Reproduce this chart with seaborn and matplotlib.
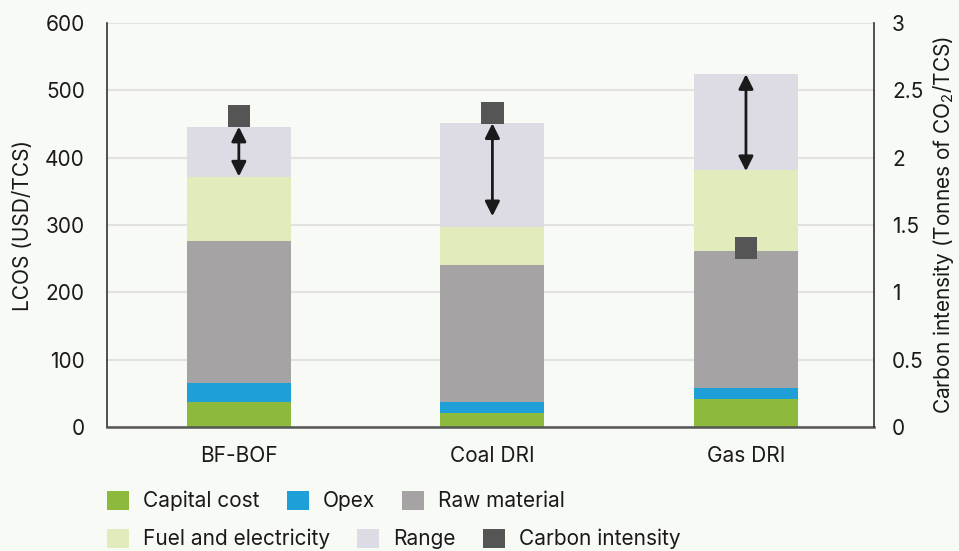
import numpy as np
import pandas as pd
import matplotlib
matplotlib.use("Agg")
import matplotlib.pyplot as plt
from matplotlib.patches import Patch
import seaborn as sns

# ---- data -------------------------------------------------------------
routes = ["BF-BOF", "Coal DRI", "Gas DRI"]
capital_cost = [37, 21, 41]
opex = [29, 16, 17]
raw_material = [210, 204, 203]
fuel_electricity = [96, 56, 120]
range_top = [446, 451, 524]          # upper end of the LCOS range
arrow_low = [372, 313, 380]          # lower end of the range arrow
carbon_intensity = [2.31, 2.33, 1.33]  # t CO2 / t crude steel

components = ["Capital cost", "Opex", "Raw material", "Fuel and electricity"]
colors = {
    "Capital cost": "#8dba3c",
    "Opex": "#1e9fd8",
    "Raw material": "#a5a3a4",
    "Fuel and electricity": "#e2ebbb",
    "Range": "#dddce4",
    "Carbon intensity": "#555555",
}
bg = "#f8faf5"

sns.set_theme(style="white")
plt.rcParams["font.family"] = ["Inter", "DejaVu Sans"]
plt.rcParams["mathtext.default"] = "regular"
FS = 15

fig = plt.figure(figsize=(9.59, 5.51), dpi=100, facecolor=bg)
ax = fig.add_axes([107 / 959, 1 - 427 / 551, (874 - 107) / 959, (427 - 23) / 551])
ax.set_facecolor(bg)

df = pd.DataFrame({
    "route": routes,
    "Capital cost": capital_cost,
    "Opex": opex,
    "Raw material": raw_material,
    "Fuel and electricity": fuel_electricity,
})
df["stack_top"] = df[components].sum(axis=1)
df["Range"] = np.array(range_top) - df["stack_top"]

bottom = np.zeros(len(routes))
for comp in components + ["Range"]:
    sns.barplot(data=df, x="route", y=comp, color=colors[comp], width=0.41,
                bottom=bottom, ax=ax, saturation=1, linewidth=0, zorder=2)
    bottom = bottom + df[comp].to_numpy()

# double-headed range arrows
pos = np.arange(len(routes))
for xi, hi, lo in zip(pos, range_top, arrow_low):
    ax.annotate("", xy=(xi, lo), xytext=(xi, hi),
                arrowprops=dict(arrowstyle="<|-|>", color="#1a1a1a", lw=2,
                                mutation_scale=22, shrinkA=0, shrinkB=0),
                zorder=4)

ax.set_ylim(0, 600)
ax.set_xlim(-0.52, 2.505)
ax.set_yticks(range(0, 601, 100))
ax.yaxis.grid(True, color="#e2e2e2", lw=1.5, zorder=0)
ax.set_axisbelow(True)
ax.set_xlabel("")
ax.set_ylabel("LCOS (USD/TCS)", fontsize=FS, color="#1a1a1a", labelpad=9)
ax.tick_params(axis="both", length=0, labelsize=FS, colors="#1a1a1a")
ax.tick_params(axis="y", pad=16)
ax.tick_params(axis="x", pad=14)
ax.spines["top"].set_visible(False)
ax.spines["left"].set_color("#333333")
ax.spines["left"].set_linewidth(1.2)
ax.spines["bottom"].set_color("#555555")
ax.spines["bottom"].set_linewidth(1.8)
ax.spines["right"].set_visible(False)

# carbon intensity on secondary axis
ax2 = ax.twinx()
sns.scatterplot(x=pos, y=carbon_intensity, marker="s", s=16 ** 2,
                color=colors["Carbon intensity"], edgecolor="none", ax=ax2,
                zorder=5, legend=False)
ax2.set_ylim(0, 3)
ax2.set_yticks([0, 0.5, 1, 1.5, 2, 2.5, 3])
ax2.set_yticklabels(["0", "0.5", "1", "1.5", "2", "2.5", "3"])
ax2.tick_params(axis="y", length=0, labelsize=FS, colors="#1a1a1a", pad=13)
ax2.set_ylabel("Carbon intensity (Tonnes of CO$_2$/TCS)", fontsize=FS,
               color="#1a1a1a", labelpad=5)
ax2.spines["top"].set_visible(False)
ax2.spines["left"].set_visible(False)
ax2.spines["bottom"].set_visible(False)
ax2.spines["right"].set_color("#333333")
ax2.spines["right"].set_linewidth(1.2)
ax2.grid(False)

# legend in two rows
rows = [["Capital cost", "Opex", "Raw material"],
        ["Fuel and electricity", "Range", "Carbon intensity"]]
for row, yc in zip(rows, [501, 539]):
    handles = [Patch(facecolor=colors[n], edgecolor="none", label=n) for n in row]
    fig.legend(handles=handles, loc="center left",
               bbox_to_anchor=(107 / 959, 1 - yc / 551), ncol=3, frameon=False,
               fontsize=FS, handlelength=1.06, handleheight=1.06,
               handletextpad=0.67, columnspacing=1.3, borderpad=0,
               borderaxespad=0, labelcolor="#1a1a1a")

fig.savefig("out.png", dpi=100, facecolor=bg)
